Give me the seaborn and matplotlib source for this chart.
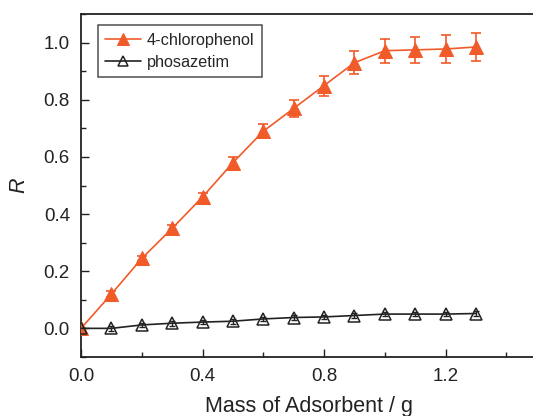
import numpy as np
import pandas as pd
import matplotlib
matplotlib.use("Agg")
import matplotlib.pyplot as plt
import seaborn as sns
from matplotlib.ticker import MultipleLocator

mass = [0.0, 0.1, 0.2, 0.3, 0.4, 0.5, 0.6, 0.7, 0.8, 0.9, 1.0, 1.1, 1.2, 1.3]
chloro = [0.0, 0.12, 0.245, 0.35, 0.46, 0.58, 0.69, 0.77, 0.85, 0.93, 0.972, 0.975, 0.978, 0.985]
chloro_err = [0.0, 0.01, 0.01, 0.012, 0.015, 0.02, 0.025, 0.03, 0.035, 0.04, 0.042, 0.045, 0.048, 0.05]
phos = [0.0, 0.0, 0.012, 0.018, 0.022, 0.025, 0.033, 0.038, 0.040, 0.045, 0.050, 0.050, 0.050, 0.052]
phos_err = [0.0, 0.008, 0.008, 0.008, 0.008, 0.008, 0.008, 0.008, 0.008, 0.008, 0.008, 0.008, 0.008, 0.008]

sns.set_theme(style="ticks")
plt.rcParams['font.family'] = ['Liberation Sans', 'DejaVu Sans']

orange = "#F15A29"
fig = plt.figure(figsize=(5.33, 4.16), dpi=100)
ax = fig.add_axes([0.152, 0.142, 0.855, 0.824])

df = pd.DataFrame({"mass": mass, "chloro": chloro, "phos": phos})

ax.errorbar(mass, chloro, yerr=chloro_err, fmt="none", ecolor=orange, elinewidth=1.2, capsize=3.5, capthick=1.2, zorder=2)
ax.errorbar(mass, phos, yerr=phos_err, fmt="none", ecolor="#222222", elinewidth=1.0, capsize=2.5, capthick=1.0, zorder=2)

sns.lineplot(data=df, x="mass", y="chloro", ax=ax, color=orange, marker="^", markersize=10,
             markeredgecolor=orange, markerfacecolor=orange, linewidth=1.2, label="4-chlorophenol", zorder=3)
sns.lineplot(data=df, x="mass", y="phos", ax=ax, color="#222222", marker="^", markersize=9,
             markeredgecolor="#222222", markerfacecolor="none", markeredgewidth=1.1, linewidth=1.2,
             label="phosazetim", zorder=3)

ax.set_xlim(0, 1.5)
ax.set_ylim(-0.1, 1.1)
ax.xaxis.set_minor_locator(MultipleLocator(0.2))
ax.yaxis.set_minor_locator(MultipleLocator(0.1))
ax.set_xticks([0.0, 0.4, 0.8, 1.2])
ax.set_xticklabels(["0.0", "0.4", "0.8", "1.2"])
ax.set_yticks([0.0, 0.2, 0.4, 0.6, 0.8, 1.0])
ax.set_yticklabels(["0.0", "0.2", "0.4", "0.6", "0.8", "1.0"])

ax.tick_params(which="major", direction="in", length=6, width=1.0, labelsize=13.5, colors="#222222", pad=8)
ax.tick_params(which="minor", direction="in", length=3.5, width=1.0)
ax.tick_params(axis="both", which="both", color="#222222")

for s in ax.spines.values():
    s.set_linewidth(1.3)
    s.set_color("#222222")

ax.set_xlabel("Mass of Adsorbent / g", fontsize=15.5, color="#222222", labelpad=8)
ax.set_ylabel("R", fontsize=15.5, style="italic", color="#222222", labelpad=10)

leg = ax.legend(loc="upper left", fontsize=11.7, frameon=True, fancybox=False, edgecolor="#222222",
                borderpad=0.45, handlelength=2.2, handletextpad=0.35, labelspacing=0.45, markerscale=0.85,
                bbox_to_anchor=(0.037, 0.967), borderaxespad=0.0)
leg.get_frame().set_linewidth(1.1)

fig.savefig("out.png", dpi=100)
